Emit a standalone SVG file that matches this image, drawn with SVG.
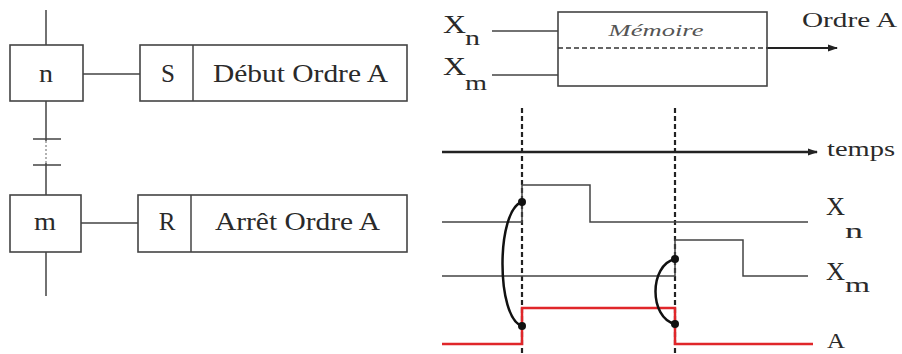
<svg xmlns="http://www.w3.org/2000/svg" width="902" height="354" viewBox="0 0 902 354">
<defs>
<marker id="ah" markerWidth="10" markerHeight="8" refX="9" refY="4" orient="auto" markerUnits="userSpaceOnUse"><path d="M0,0.5 L10,4 L0,7.5 Z" fill="#222"/></marker>
</defs>
<style>
.box{fill:#fff;stroke:#444;stroke-width:1.6}
.ln{fill:none;stroke:#444;stroke-width:1.5}
.t{fill:#2a2a2a}
.dash{fill:none;stroke:#222;stroke-width:2.2;stroke-dasharray:5 3}
.red{fill:none;stroke:#e0262a;stroke-width:2.5}
.arc{fill:none;stroke:#111;stroke-width:2.5}
</style>
<rect width="902" height="354" fill="#fff"/>

<g id="connectors">
<path class="ln" d="M46,10 V45 M46,101 V141 M46,163 V195 M46,252 V296"/>
<path d="M46,141 V163" stroke="#999" stroke-width="1.5" stroke-dasharray="2 2"/>
<path class="ln" d="M33,139 H61 M33,165 H61"/>
<path class="ln" d="M83,74 H140 M81,223 H138"/>
<path class="ln" d="M492,31 H558 M492,75 H558"/>
<path d="M767,48 H837" stroke="#222" stroke-width="2" marker-end="url(#ah)"/>
</g>

<g font-family="Liberation Serif, Times New Roman, serif">
<g id="step-n">
<rect class="box" x="10" y="45" width="73" height="56"/>
<text class="t" x="39" y="82" font-size="26" textLength="14" lengthAdjust="spacingAndGlyphs">n</text>
</g>
<g id="action-S">
<rect class="box" x="140" y="45" width="267" height="56"/>
<line class="ln" x1="193" y1="45" x2="193" y2="101"/>
<text class="t" x="168" y="82" font-size="25" text-anchor="middle">S</text>
<text class="t" x="213" y="82" font-size="25" textLength="175" lengthAdjust="spacingAndGlyphs">Début Ordre A</text>
</g>
<g id="step-m">
<rect class="box" x="10" y="195" width="71" height="57"/>
<text class="t" x="34" y="230" font-size="26" textLength="22" lengthAdjust="spacingAndGlyphs">m</text>
</g>
<g id="action-R">
<rect class="box" x="138" y="195" width="269" height="57"/>
<line class="ln" x1="191" y1="195" x2="191" y2="252"/>
<text class="t" x="167" y="230" font-size="25" text-anchor="middle">R</text>
<text class="t" x="215" y="230" font-size="25" textLength="165" lengthAdjust="spacingAndGlyphs">Arrêt Ordre A</text>
</g>

<g id="memoire">
<rect class="box" x="558" y="12" width="209" height="74"/>
<line x1="558" y1="48" x2="767" y2="48" stroke="#333" stroke-width="1.5" stroke-dasharray="5 3"/>
<text x="656" y="36" font-style="italic" font-size="17" fill="#555" text-anchor="middle" textLength="95" lengthAdjust="spacingAndGlyphs">Mémoire</text>
</g>
<g id="inputs">
<text class="t" x="443" y="33" font-size="25" textLength="23" lengthAdjust="spacingAndGlyphs">X</text>
<text class="t" x="465" y="45" font-size="21" textLength="15" lengthAdjust="spacingAndGlyphs">n</text>
<text class="t" x="443" y="75" font-size="25" textLength="23" lengthAdjust="spacingAndGlyphs">X</text>
<text class="t" x="465" y="90" font-size="21" textLength="22" lengthAdjust="spacingAndGlyphs">m</text>
<text class="t" x="802" y="27" font-size="20" textLength="95" lengthAdjust="spacingAndGlyphs">Ordre A</text>
</g>

<g id="chronogram">
<line class="dash" x1="522" y1="108" x2="522" y2="354"/>
<line class="dash" x1="675" y1="108" x2="675" y2="354"/>
<line x1="442" y1="152" x2="817" y2="152" stroke="#222" stroke-width="2.5" marker-end="url(#ah)"/>
<text class="t" x="827" y="156" font-size="20" textLength="68" lengthAdjust="spacingAndGlyphs">temps</text>
<path class="ln" d="M442,222 H522 V185 H590 V222 H808"/>
<path class="ln" d="M442,276 H675 V240 H743 V276 H808"/>
<path class="red" d="M442,344 H522 V308 H675 V344 H813"/>
<path class="arc" d="M522,202 C496,210 496,318 522,326"/>
<path class="arc" d="M675,259 C649,265 649,318 675,324"/>
<circle cx="522" cy="202" r="4" fill="#111"/>
<circle cx="522" cy="326" r="4" fill="#111"/>
<circle cx="675" cy="259" r="4" fill="#111"/>
<circle cx="675" cy="324" r="4" fill="#111"/>
<text class="t" x="826" y="215" font-size="25" textLength="19" lengthAdjust="spacingAndGlyphs">X</text>
<text class="t" x="845" y="238" font-size="21" textLength="18" lengthAdjust="spacingAndGlyphs">n</text>
<text class="t" x="826" y="280" font-size="25" textLength="19" lengthAdjust="spacingAndGlyphs">X</text>
<text class="t" x="845" y="292" font-size="21" textLength="25" lengthAdjust="spacingAndGlyphs">m</text>
<text class="t" x="827" y="348" font-size="22" textLength="18" lengthAdjust="spacingAndGlyphs">A</text>
</g>
</g>
</svg>
